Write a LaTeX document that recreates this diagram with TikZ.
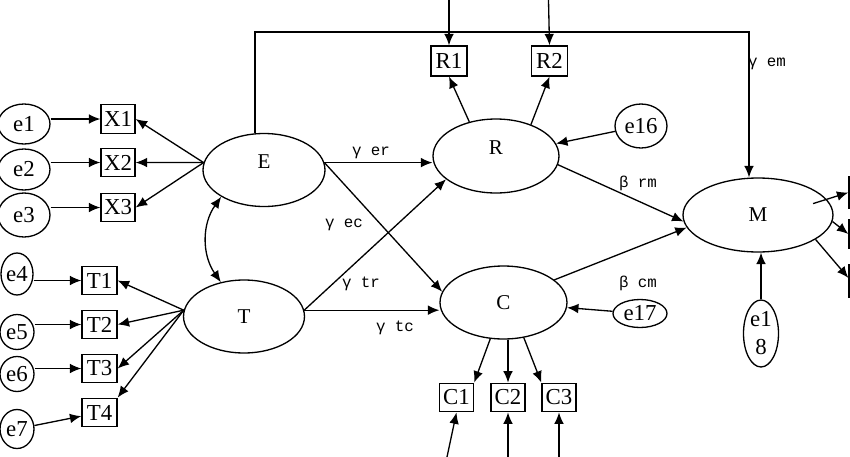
\documentclass[tikz,border=0pt]{standalone}
\usepackage{fontspec}
\setmainfont{Liberation Serif}
\newfontfamily\coeffont{Liberation Mono}
\usetikzlibrary{shapes.geometric,arrows.meta}

\begin{document}
\begin{tikzpicture}[x=0.02cm,y=-0.02cm,line width=0.75pt,
    lat/.style={ellipse,draw,inner sep=0pt,font=\fontsize{12}{14}\selectfont},
    err/.style={ellipse,draw,inner sep=0pt,font=\fontsize{13}{16}\selectfont},
    obs/.style={rectangle,draw,inner sep=0pt,minimum width=0.68cm,minimum height=0.57cm,font=\fontsize{13}{15}\selectfont},
    up/.style={text depth=0.34cm},
    arr/.style={-{Latex[length=6.5pt,width=5.5pt]}},
    arrr/.style={{Latex[length=6.5pt,width=5.5pt]}-{Latex[length=6.5pt,width=5.5pt]}},
    coef/.style={font=\coeffont\fontsize{9}{10}\selectfont,inner sep=0pt}]
        \useasboundingbox (0,0) rectangle (850,457) ;
        \clip (0,0) rectangle (850,457) ;
        % latent variables
        \node[lat,up,minimum width=2.44cm,minimum height=1.46cm] (E) at (264,170) {E} ;
        \node[lat,minimum width=2.42cm,minimum height=1.46cm] (T) at (244,316.5) {T} ;
        \node[lat,up,minimum width=2.52cm,minimum height=1.48cm] (R) at (496,156) {R} ;
        \node[lat,minimum width=2.54cm,minimum height=1.46cm] (C) at (503.5,302.5) {C} ;
        \node[lat,minimum width=3cm,minimum height=1.48cm] (M) at (758,215) {M} ;
        % indicators
        \node[obs] (X1) at (118,119) {X1} ;
        \node[obs] (X2) at (118,162.5) {X2} ;
        \node[obs] (X3) at (118,207.5) {X3} ;
        \node[obs,minimum width=0.7cm] (T1) at (99.5,280.5) {T1} ;
        \node[obs,minimum width=0.7cm] (T2) at (99.5,324.5) {T2} ;
        \node[obs,minimum width=0.7cm] (T3) at (99.5,368.5) {T3} ;
        \node[obs,minimum width=0.7cm] (T4) at (99.5,412.5) {T4} ;
        \node[obs,minimum width=0.72cm,minimum height=0.6cm] (R1) at (449,61) {R1} ;
        \node[obs,minimum width=0.72cm,minimum height=0.6cm] (R2) at (549.5,61) {R2} ;
        \node[obs] (C1) at (456.5,397.5) {C1} ;
        \node[obs] (C2) at (508,397.5) {C2} ;
        \node[obs] (C3) at (559,397.5) {C3} ;
        \node[obs,minimum height=0.62cm] (M1) at (866,192.5) {} ;
        \node[obs] (M2) at (866,234) {} ;
        \node[obs,minimum height=0.64cm] (M3) at (866,281) {} ;
        % errors
        \node[err,minimum width=1.04cm,minimum height=0.8cm] (e1) at (24,124) {e1} ;
        \node[err,minimum width=1.04cm,minimum height=0.82cm] (e2) at (24,169.5) {e2} ;
        \node[err,minimum width=1.04cm,minimum height=0.88cm] (e3) at (24,215) {e3} ;
        \node[err,minimum width=0.64cm,minimum height=0.84cm] (e4) at (17,274) {e4} ;
        \node[err,minimum width=0.68cm,minimum height=0.7cm] (e5) at (17,332) {e5} ;
        \node[err,minimum width=0.68cm,minimum height=0.7cm] (e6) at (17,374) {e6} ;
        \node[err,minimum width=0.68cm,minimum height=0.78cm] (e7) at (17,429) {e7} ;
        \node[err,minimum width=1.04cm,minimum height=0.88cm] (e16) at (641,126) {e16} ;
        \node[err,minimum width=1.08cm,minimum height=0.56cm] (e17) at (640,313.5) {e17} ;
        \node[err,align=center,minimum width=0.7cm,minimum height=1.34cm] (e18) at (761,333.5) {e1\\8} ;
        % free ends
        \coordinate (r1in) at (449,0) ;
        \coordinate (r2in) at (548.5,0) ;
        \coordinate (c1in) at (447,457) ;
        \coordinate (c2in) at (508,457) ;
        \coordinate (c3in) at (559,457) ;
        \coordinate (emL) at (255,32) ;
        \coordinate (emR) at (749,32) ;
        % measurement part
        \foreach \x in {1,2,3} { \draw[arr] (E.173) -- (X\x.east) ; }
        \foreach \x in {1,2,3} { \draw[arr] (e\x.east |- X\x.west) -- (X\x.west) ; }
        \draw[arr] (T.174) -- (T1.east) ;
        \draw[arr] (T.174) -- (T2.east) ;
        \draw[arr] (T.174) -- (T3.east) ;
        \draw[arr] (T.174) -- (T4.north east) ;
        \draw[arr] (e4.east |- T1.west) -- (T1.west) ;
        \draw[arr] (e5.east |- T2.west) -- (T2.west) ;
        \draw[arr] (e6.east |- T3.west) -- (T3.west) ;
        \draw[arr] (e7) -- (T4) ;
        \draw[arr] (r1in) -- (R1.north) ;
        \draw[arr] (r2in) -- (R2.north) ;
        \draw[arr] (R.128) -- (R1.south) ;
        \draw[arr] (R.42) -- (R2.south) ;
        \draw[arr] (C.250) -- (C1.north east) ;
        \draw[arr] (C.south -| C2.north) -- (C2.north) ;
        \draw[arr] (C.300) -- (C3.north west) ;
        \draw[arr] (c1in) -- (C1.south) ;
        \draw[arr] (c2in) -- (C2.south) ;
        \draw[arr] (c3in) -- (C3.south) ;
        \draw[arr] ([xshift=-0.34cm]M.9) -- (M1.west) ;
        \draw[arr] (M.355) -- (M2.west) ;
        \draw[arr] (M.337) -- (M3.170) ;
        % structural part
        \draw[arrr] (E.212) to[bend right=35] (T.124) ;
        \draw[arr] (E.7) -- (R.west |- E.7) ;
        \draw[arr] (E.7) -- (C.170) ;
        \draw[arr] (T.6) -- (R.205) ;
        \draw[arr] (T.6) -- (C.west |- T.6) ;
        \draw[arr] (R.352) -- (M.185) ;
        \draw[arr] (C.24) -- (M.190) ;
        \draw[arr] (emL |- E.north) -- (emL) -- (emR) -- (emR |- M.north) ;
        \draw[arr] (e16) -- (R) ;
        \draw[arr] (e17) -- (C) ;
        \draw[arr] (e18.north) -- (e18.north |- M.south) ;
        % coefficients
        \node[coef] (ger) at (371,153) {γ er} ;
        \node[coef] (gec) at (344,225) {γ ec} ;
        \node[coef] (gtr) at (361,284) {γ tr} ;
        \node[coef] (gtc) at (395,328) {γ tc} ;
        \node[coef] (gem) at (767,64) {γ em} ;
        \node[coef] (brm) at (638,183) {β rm} ;
        \node[coef] (bcm) at (638,283) {β cm} ;
\end{tikzpicture}
\end{document}
